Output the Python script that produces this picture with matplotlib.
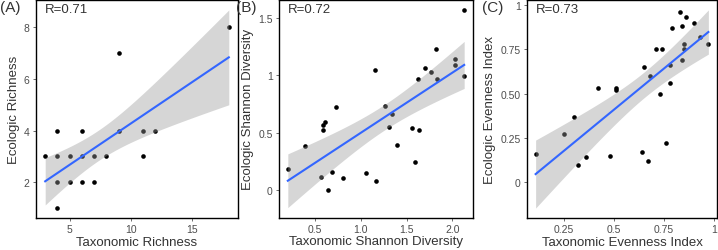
import numpy as np
import matplotlib
matplotlib.use("Agg")
import matplotlib.pyplot as plt

plt.rcParams["font.family"] = ["Liberation Sans", "DejaVu Sans"]

# (A) richness
rich_x = [3, 4, 4, 4, 4, 5, 5, 6, 6, 6, 7, 7, 8, 9, 9, 11, 11, 12, 18]
rich_y = [3, 4, 3, 2, 1, 3, 2, 4, 3, 2, 3, 2, 3, 7, 4, 4, 3, 4, 8]

# (B) Shannon diversity
shan_x = [0.20, 0.39, 0.56, 0.58, 0.58, 0.61, 0.64, 0.68, 0.73, 0.80, 1.06, 1.15,
          1.16, 1.26, 1.31, 1.34, 1.39, 1.56, 1.59, 1.63, 1.64, 1.70, 1.77, 1.82,
          1.83, 2.03, 2.03, 2.13, 2.13]
shan_y = [0.18, 0.38, 0.11, 0.52, 0.57, 0.59, 0.00, 0.16, 0.72, 0.10, 0.15, 1.05,
          0.08, 0.73, 0.55, 0.66, 0.39, 0.54, 0.24, 0.97, 0.52, 1.06, 1.03, 1.23,
          0.97, 1.14, 1.09, 1.57, 0.99]

# (C) evenness index
even_x = [0.11, 0.25, 0.30, 0.32, 0.36, 0.42, 0.48, 0.51, 0.51, 0.64, 0.65, 0.68,
          0.71, 0.67, 0.73, 0.74, 0.76, 0.78, 0.78, 0.79, 0.83, 0.84, 0.84, 0.85,
          0.85, 0.86, 0.90, 0.93, 0.97]
even_y = [0.16, 0.27, 0.37, 0.10, 0.14, 0.53, 0.15, 0.53, 0.52, 0.17, 0.65, 0.60,
          0.75, 0.12, 0.50, 0.75, 0.22, 0.56, 0.66, 0.87, 0.96, 0.88, 0.69, 0.75,
          0.78, 0.93, 0.90, 0.82, 0.78]

PANELS = [
    ("(A)", "R=0.71", rich_x, rich_y, "Taxonomic Richness", "Ecologic Richness",
     [5, 10, 15], ["5", "10", "15"], [2, 4, 6, 8], ["2", "4", "6", "8"]),
    ("(B)", "R=0.72", shan_x, shan_y, "Taxonomic Shannon Diversity", "Ecologic Shannon Diversity",
     [0.5, 1.0, 1.5, 2.0], ["0.5", "1.0", "1.5", "2.0"], [0, 0.5, 1, 1.5], ["0", "0.5", "1", "1.5"]),
    ("(C)", "R=0.73", even_x, even_y, "Taxonomic Evenness Index", "Ecologic Evenness Index",
     [0.25, 0.5, 0.75, 1], ["0.25", "0.5", "0.75", "1"],
     [0, 0.25, 0.5, 0.75, 1], ["0", "0.25", "0.50", "0.75", "1"]),
]

# panel boxes in pixels: left, right, top, bottom, and x of the panel tag
BOXES = [(36, 238, 1, 219, 0), (279, 473, 1, 218.5, 236), (527, 717, 1, 219, 482)]
W, H = 718, 251


def t975(df):
    z = 1.959964
    return (z + (z**3 + z) / (4 * df) + (5 * z**5 + 16 * z**3 + 3 * z) / (96 * df**2)
            + (3 * z**7 + 19 * z**5 + 17 * z**3 - 15 * z) / (384 * df**3))


def smooth(x, y):
    x = np.asarray(x, float)
    y = np.asarray(y, float)
    n = len(x)
    b, a = np.polyfit(x, y, 1)
    resid = y - (a + b * x)
    sigma = np.sqrt(np.sum(resid**2) / (n - 2))
    sxx = np.sum((x - x.mean())**2)
    xs = np.linspace(x.min(), x.max(), 80)
    fit = a + b * xs
    se = sigma * np.sqrt(1 / n + (xs - x.mean())**2 / sxx)
    t = t975(n - 2)
    return xs, fit, fit - t * se, fit + t * se


fig = plt.figure(figsize=(W / 100, H / 100), dpi=100)

for (tag, rtxt, x, y, xl, yl, xt, xtl, yt, ytl), (l, r, t, b, tx) in zip(PANELS, BOXES):
    ax = fig.add_axes([l / W, 1 - b / H, (r - l) / W, (b - t) / H])
    xs, fit, lo, hi = smooth(x, y)
    ax.scatter(x, y, s=11, color="black", linewidths=0, zorder=2)
    ax.fill_between(xs, lo, hi, color="#999999", alpha=0.4, linewidth=0, zorder=3)
    ax.plot(xs, fit, color="#3366FF", lw=1.5, zorder=4)

    x0, x1 = min(x), max(x)
    dx = (x1 - x0) * 0.05
    ax.set_xlim(x0 - dx, x1 + dx)
    y0, y1 = min(min(y), lo.min()), max(max(y), hi.max())
    dy = (y1 - y0) * 0.05
    ax.set_ylim(y0 - dy, y1 + dy)

    ax.set_xticks(xt)
    ax.set_xticklabels(xtl)
    ax.set_yticks(yt)
    ax.set_yticklabels(ytl)
    ax.tick_params(length=2.5, width=0.6, color="#555555", labelsize=7.5,
                   labelcolor="#4D4D4D", pad=2)
    for sp in ax.spines.values():
        sp.set_color("black")
        sp.set_linewidth(1.0)
    ax.set_xlabel(xl, fontsize=9.5, color="#333333", labelpad=1)
    ax.set_ylabel(yl, fontsize=9.5, color="#333333", labelpad=3)
    ax.text(0.045, 0.985, rtxt, transform=ax.transAxes, ha="left", va="top",
            fontsize=9.5, color="#333333")
    fig.text(tx / W, 1 - 1 / H, tag, ha="left", va="top", fontsize=11, color="#333333")

fig.savefig("out.png", dpi=100, facecolor="white")
